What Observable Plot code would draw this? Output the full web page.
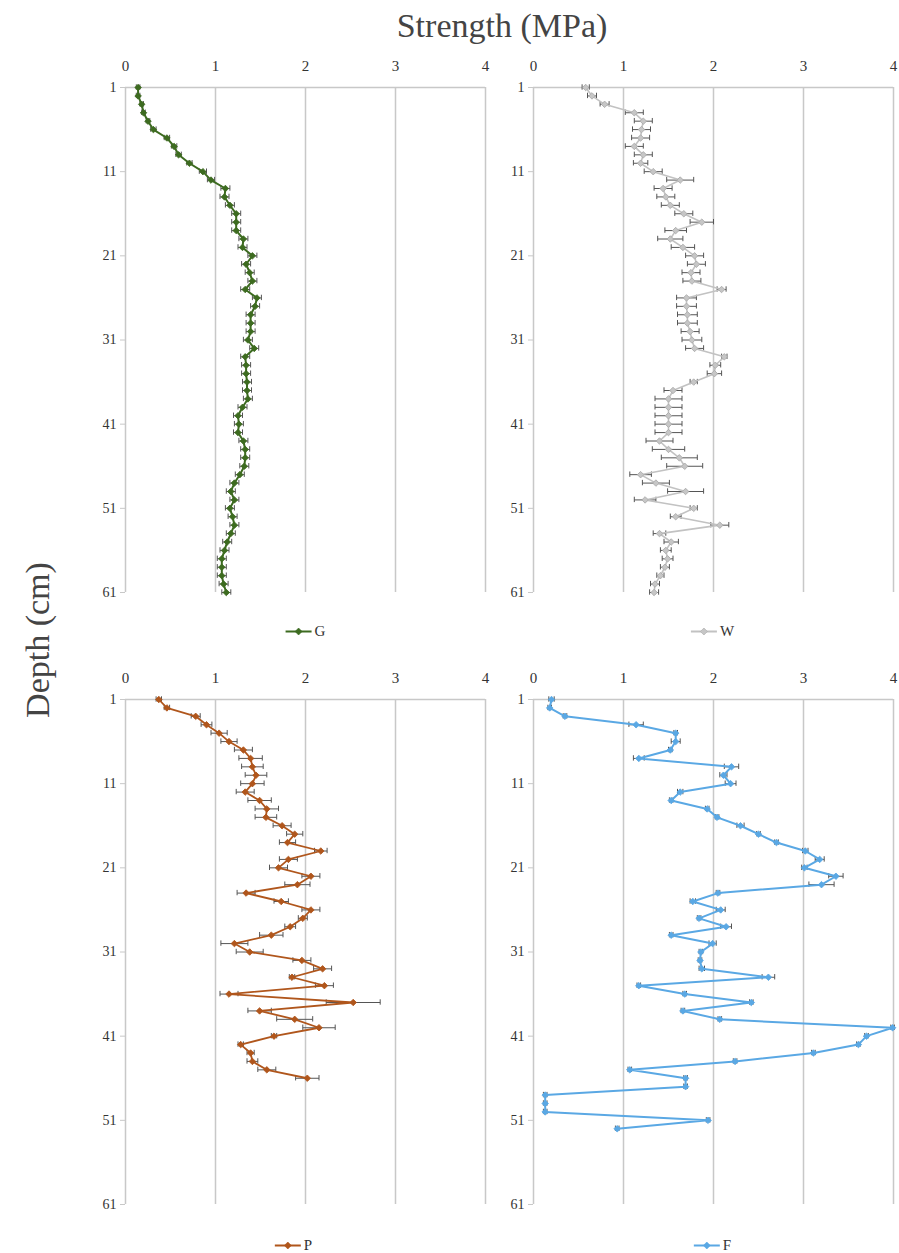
<!DOCTYPE html>
<html><head><meta charset="utf-8">
<script src="https://cdn.jsdelivr.net/npm/d3@7"></script>
<script src="https://cdn.jsdelivr.net/npm/@observablehq/plot@0.6"></script>
<style>
body{margin:0;background:#fff;overflow:hidden;width:899px;height:1253px;position:relative;font-family:"Liberation Serif","Times New Roman",serif}
.abs{position:absolute}
svg text{font-family:"Liberation Serif","Times New Roman",serif !important}
#title{left:502px;top:9px;transform:translateX(-50%);font-size:34px;line-height:1;color:#444;white-space:nowrap}
#ylab{left:38px;top:640px;transform:translate(-50%,-50%) rotate(-90deg);font-size:34px;line-height:1;color:#444;white-space:nowrap}
.legend{transform:translate(-50%,-50%);font-size:15px;color:#333;white-space:nowrap;display:flex;align-items:center;gap:2px}
</style></head><body>
<div id="title" class="abs">Strength (MPa)</div>
<div id="ylab" class="abs">Depth (cm)</div>
<script>
// Strength values (MPa) at depths 1,2,3,... cm and their error half-widths
const gVals=[0.14,0.14,0.18,0.20,0.25,0.31,0.46,0.54,0.59,0.71,0.86,0.95,1.11,1.10,1.16,1.23,1.23,1.23,1.31,1.30,1.41,1.34,1.38,1.41,1.33,1.46,1.44,1.39,1.39,1.39,
1.36,1.43,1.33,1.34,1.34,1.35,1.35,1.36,1.30,1.25,1.26,1.25,1.31,1.33,1.33,1.32,1.27,1.21,1.17,1.21,1.16,1.19,1.21,1.17,1.13,1.10,1.07,1.07,1.07,1.09,1.12];
const gErr=[0.02,0.02,0.02,0.02,0.02,0.03,0.03,0.03,0.03,0.03,0.04,0.04,0.05,0.05,0.05,0.05,0.05,0.05,0.05,0.05,0.05,0.05,0.05,0.05,0.05,0.05,0.05,0.05,0.05,0.05,
0.05,0.05,0.05,0.05,0.05,0.05,0.05,0.05,0.05,0.05,0.05,0.05,0.05,0.05,0.05,0.05,0.05,0.05,0.05,0.05,0.05,0.05,0.05,0.05,0.05,0.05,0.05,0.05,0.05,0.05,0.05];
const wVals=[0.58,0.65,0.79,1.12,1.22,1.20,1.19,1.12,1.22,1.19,1.33,1.63,1.44,1.47,1.52,1.67,1.87,1.58,1.52,1.66,1.79,1.81,1.75,1.76,2.09,1.70,1.70,1.71,1.71,1.74,
1.76,1.79,2.12,2.02,2.01,1.78,1.55,1.50,1.50,1.50,1.50,1.50,1.40,1.50,1.62,1.68,1.19,1.36,1.69,1.24,1.78,1.58,2.07,1.40,1.53,1.47,1.49,1.46,1.41,1.35,1.34];
const wErr=[0.04,0.05,0.05,0.1,0.1,0.1,0.1,0.1,0.1,0.08,0.1,0.15,0.1,0.1,0.1,0.1,0.13,0.12,0.14,0.13,0.1,0.1,0.1,0.1,0.05,0.11,0.11,0.11,0.11,0.1,
0.11,0.1,0.03,0.06,0.08,0.04,0.1,0.15,0.15,0.15,0.15,0.15,0.15,0.18,0.2,0.2,0.12,0.15,0.2,0.12,0.04,0.06,0.1,0.07,0.08,0.06,0.06,0.05,0.04,0.05,0.05];
const pVals=[0.37,0.46,0.78,0.90,1.04,1.15,1.31,1.39,1.41,1.45,1.41,1.33,1.49,1.57,1.56,1.74,1.88,1.80,2.17,1.81,1.70,2.06,1.91,
1.34,1.73,2.06,1.97,1.83,1.62,1.21,1.38,1.96,2.19,1.85,2.21,1.15,2.53,1.49,1.88,2.15,1.65,1.28,1.39,1.41,1.57,2.02];
const pErr=[0.03,0.03,0.05,0.06,0.09,0.09,0.1,0.13,0.12,0.12,0.13,0.1,0.13,0.13,0.12,0.1,0.09,0.09,0.07,0.1,0.1,0.1,0.14,
0.1,0.08,0.1,0.05,0.06,0.13,0.15,0.15,0.1,0.1,0.03,0.1,0.1,0.3,0.13,0.2,0.18,0.03,0.03,0.04,0.06,0.1,0.13];
const fVals=[0.20,0.18,0.35,1.14,1.58,1.58,1.52,1.17,2.20,2.11,2.19,1.63,1.53,1.93,2.04,2.30,2.50,2.70,3.02,3.18,3.01,3.36,3.20,
2.05,1.77,2.08,1.84,2.14,1.53,1.99,1.86,1.85,1.87,2.61,1.17,1.68,2.42,1.66,2.07,3.99,3.70,3.61,3.11,2.24,1.07,1.69,1.69,0.13,0.13,0.13,1.94,0.93];
const fErr=[0.03,0.02,0.02,0.08,0.02,0.05,0.02,0.06,0.08,0.04,0.06,0.03,0.02,0.02,0.02,0.04,0.02,0.02,0.03,0.05,0.03,0.08,0.14,
0.02,0.03,0.05,0.02,0.06,0.02,0.04,0.02,0.02,0.03,0.07,0.02,0.02,0.02,0.02,0.02,0.02,0.02,0.02,0.02,0.02,0.02,0.02,0.02,0.02,0.02,0.02,0.02,0.02];

const xTicks=[0,1,2,3,4];
const yTicks=[1,11,21,31,41,51,61];

const panels=[
 {name:"G",vals:gVals,err:gErr,fill:"#3d6b20",stroke:"#3d6b20",line:"#3d6b20",lw:2,left:60,top:40,legX:305,legY:631},
 {name:"W",vals:wVals,err:wErr,fill:"#c6c6c6",stroke:"#a9a9a9",line:"#c2c2c2",lw:1.6,left:468,top:40,legX:712,legY:631},
 {name:"P",vals:pVals,err:pErr,fill:"#b0561c",stroke:"#b0561c",line:"#b0561c",lw:1.8,left:60,top:652,legX:293,legY:1245},
 {name:"F",vals:fVals,err:fErr,fill:"#5aa8e4",stroke:"#5aa8e4",line:"#5aa8e4",lw:2,left:468,top:652,legX:712,legY:1245}
];

function makePanel(p){
  const data=p.vals.map((v,i)=>({depth:i+1,v,lo:v-p.err[i],hi:v+p.err[i]}));
  const grid="#c8c8c8", eb="#555";
  const chart=Plot.plot({
    width:431,height:562,marginLeft:65,marginRight:6,marginTop:47,marginBottom:10,
    x:{domain:[0,4]},
    y:{domain:[1,61],reverse:true},
    style:{fontFamily:"'Liberation Serif', 'Times New Roman', serif",fontSize:"15px",color:"#333",background:"transparent",overflow:"visible"},
    marks:[
      Plot.ruleX(xTicks,{stroke:grid,strokeWidth:1.5}),
      Plot.ruleY([1],{stroke:grid,strokeWidth:1.5}),
      Plot.axisX({anchor:"top",ticks:xTicks,tickFormat:d=>String(d),tickSize:0,tickPadding:17,label:null,fill:"#333",fontSize:15}),
      Plot.axisY({anchor:"left",ticks:yTicks,tickFormat:d=>String(d),tickSize:5,tickPadding:4,label:null,stroke:grid,fill:"#333",fontSize:14}),
      Plot.link(data,{x1:"lo",x2:"hi",y1:"depth",y2:"depth",stroke:eb,strokeWidth:1}),
      Plot.ruleX(data,{x:"lo",y1:d=>d.depth-0.32,y2:d=>d.depth+0.32,stroke:eb,strokeWidth:1}),
      Plot.ruleX(data,{x:"hi",y1:d=>d.depth-0.32,y2:d=>d.depth+0.32,stroke:eb,strokeWidth:1}),
      Plot.line(data,{x:"v",y:"depth",stroke:p.line,strokeWidth:p.lw}),
      Plot.dot(data,{x:"v",y:"depth",symbol:"square",rotate:45,r:2.6,fill:p.fill,stroke:p.stroke,strokeWidth:0.8})
    ]
  });
  chart.classList.add("abs");
  chart.style.left=p.left+"px";
  chart.style.top=p.top+"px";
  document.body.appendChild(chart);

  const leg=document.createElement("div");
  leg.className="abs legend";
  leg.style.left=p.legX+"px";
  leg.style.top=p.legY+"px";
  leg.innerHTML=`<svg width="28" height="10"><line x1="1" y1="5" x2="27" y2="5" stroke="${p.line}" stroke-width="1.8"/><path d="M14,1.5L17.5,5L14,8.5L10.5,5Z" fill="${p.fill}" stroke="${p.stroke}" stroke-width="0.6"/></svg><span>${p.name}</span>`;
  document.body.appendChild(leg);
}
panels.forEach(makePanel);
</script>
</body></html>
